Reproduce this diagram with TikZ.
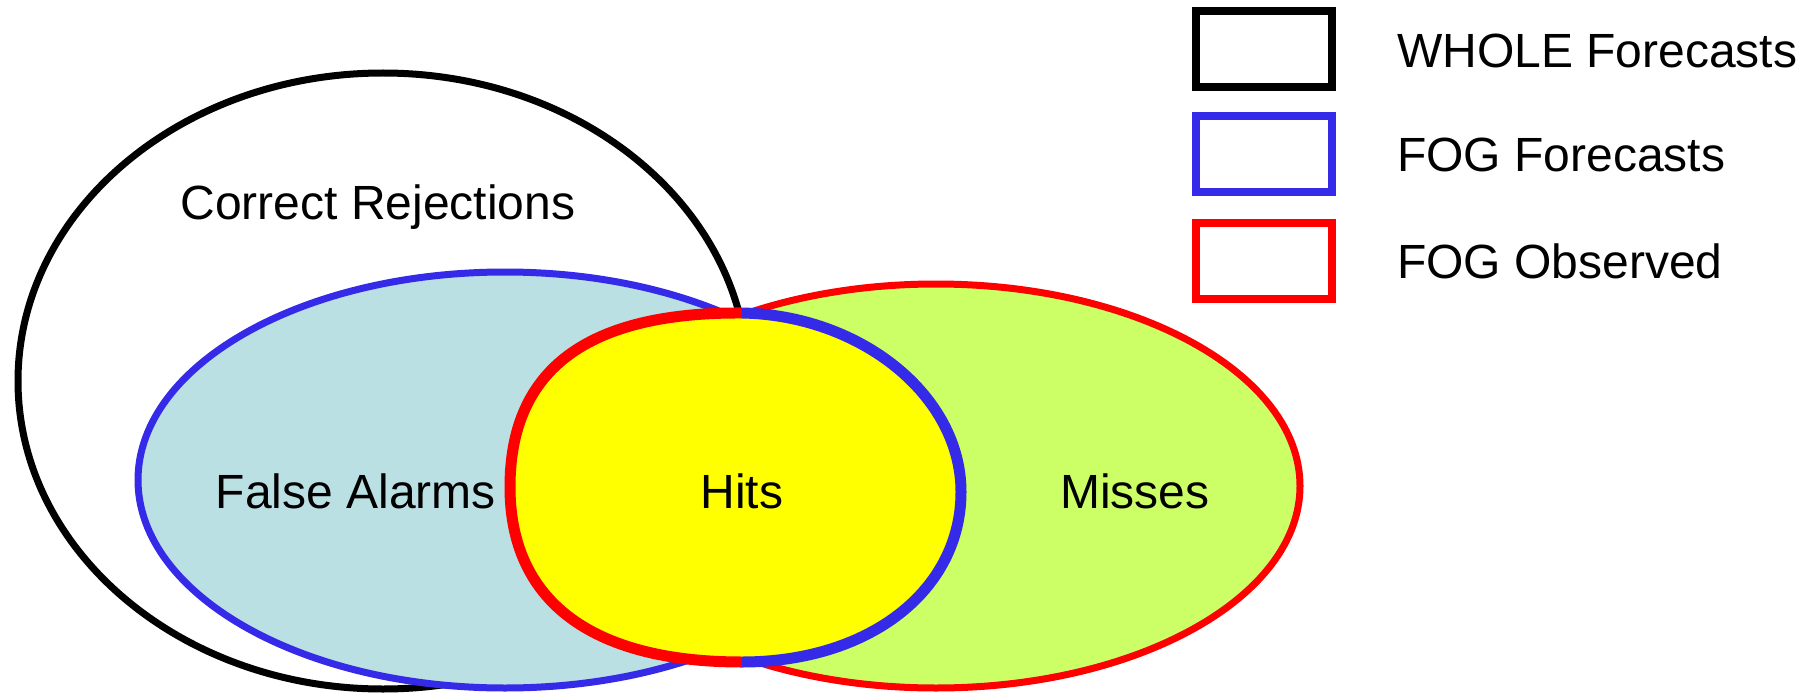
\documentclass[tikz,border=0pt]{standalone}
\usepackage{fontspec}
\setmainfont{Liberation Sans}
\definecolor{fcblue}{RGB}{52,42,232}
\definecolor{fcfill}{RGB}{186,224,227}
\definecolor{obsfill}{RGB}{204,255,102}
\definecolor{hitfill}{RGB}{255,255,0}
\definecolor{obsred}{RGB}{255,0,0}
\tikzset{
  thinline/.style={line width=7pt},
  thickline/.style={line width=11pt},
  keybox/.style={line width=8pt},
  label/.style={font=\fontsize{48}{58}\selectfont, inner sep=0pt, anchor=base},
  keytext/.style={font=\fontsize{48}{58}\selectfont, inner sep=0pt, anchor=base west},
}
\begin{document}
\begin{tikzpicture}[x=1pt,y=-1pt]
\useasboundingbox (0,0) rectangle (1812,695);

% junction points of the two forecast sets and the extremes of the hit region
\coordinate (T) at (742,313);
\coordinate (B) at (742,662);
\coordinate (L) at (510,487);
\coordinate (R) at (961,492);

% the whole set of forecasts
\draw[thinline, black] (383,381) ellipse [x radius=365, y radius=308];

% fog forecasts (left part)
\begin{scope}
  \clip (0,0) rectangle (742,695);
  \draw[thinline, draw=fcblue, fill=fcfill] (505,480) ellipse [x radius=367, y radius=208];
\end{scope}

% fog observed (right part)
\begin{scope}
  \clip (742,0) rectangle (1812,695);
  \draw[thinline, draw=obsred, fill=obsfill] (936,486) ellipse [x radius=364, y radius=202];
\end{scope}

% hits: overlap of forecast and observed fog
\fill[hitfill] (T) .. controls (580,312) and (510,375) .. (L)
               .. controls (510,600) and (590,662) .. (B)
               .. controls (870,662) and (961,590) .. (R)
               .. controls (961,395) and (860,315) .. (T) -- cycle;
\draw[thickline, obsred] (T) .. controls (580,312) and (510,375) .. (L)
                         .. controls (510,600) and (590,662) .. (B);
\draw[thickline, fcblue] (T) .. controls (860,315) and (961,395) .. (R)
                         .. controls (961,590) and (870,662) .. (B);

% region labels
\node[label] (cr) at (378,219) {Correct Rejections};
\node[label] (fa) at (356,508) {False Alarms};
\node[label] (hits) at (742,508) {Hits};
\node[label] (miss) at (1135,508) {Misses};

% legend
\draw[keybox, black]  (1196,11)  rectangle (1332,87);
\draw[keybox, fcblue] (1196,116) rectangle (1332,192);
\draw[keybox, obsred] (1196,223) rectangle (1332,299);
\node[keytext] (k1) at (1397,68)  {WHOLE Forecasts};
\node[keytext] (k2) at (1397,172) {FOG Forecasts};
\node[keytext] (k3) at (1397,278) {FOG Observed};
\end{tikzpicture}
\end{document}
